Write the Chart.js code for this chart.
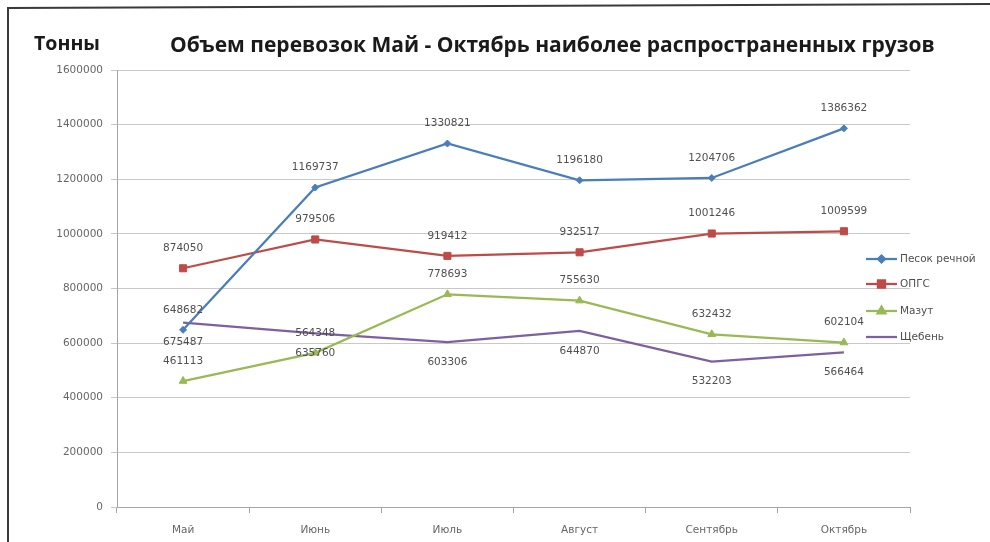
<!DOCTYPE html>
<html>
<head>
<meta charset="utf-8">
<script src="https://cdn.jsdelivr.net/npm/chart.js@4.4.1/dist/chart.umd.min.js"></script>
<style>
html,body{margin:0;padding:0;background:#fff;}
#wrap{position:relative;width:990px;height:542px;}
canvas{display:block;}
</style>
</head>
<body>
<div id="wrap"><canvas id="c" width="990" height="542"></canvas></div>
<script>
const categories = ["Май", "Июнь", "Июль", "Август", "Сентябрь", "Октябрь"];
const pesok = [648682, 1169737, 1330821, 1196180, 1204706, 1386362];
const opgs = [874050, 979506, 919412, 932517, 1001246, 1009599];
const mazut = [461113, 564348, 778693, 755630, 632432, 602104];
const sheben = [675487, 635760, 603306, 644870, 532203, 566464];
const seriesNames = ["Песок речной", "ОПГС", "Мазут", "Щебень"];
const yTicks = [0, 200000, 400000, 600000, 800000, 1000000, 1200000, 1400000, 1600000];
const titleText = "Объем перевозок Май - Октябрь наиболее распространенных грузов";
const unitText = "Тонны";

const FONT = "'Open Sans', 'Liberation Sans', sans-serif";
const SMALL = "'DejaVu Sans', sans-serif";

const styles = [
  {color:"#4a7ebb", pointStyle:"rectRot", radius:3.5, labelPos:"above"},
  {color:"#be4b48", pointStyle:"rect", radius:5, labelPos:"above"},
  {color:"#98b954", pointStyle:"triangle", radius:4.5, labelPos:"above"},
  {color:"#7d60a0", pointStyle:false, radius:0, labelPos:"below"}
];

const allData = [pesok, opgs, mazut, sheben];

const datasets = allData.map((d, i) => ({
  label: seriesNames[i],
  data: d,
  borderColor: styles[i].color,
  backgroundColor: styles[i].color,
  borderWidth: 2.25,
  pointStyle: styles[i].pointStyle,
  pointRadius: styles[i].radius,
  pointHoverRadius: styles[i].radius,
  pointBorderWidth: 1,
  pointBorderColor: styles[i].color,
  pointBackgroundColor: styles[i].color,
  tension: 0,
  labelPos: styles[i].labelPos
}));

const decor = {
  id: "decor",
  beforeDraw(chart) {
    const ctx = chart.ctx;
    ctx.save();
    ctx.fillStyle = "#fff";
    ctx.fillRect(0, 0, chart.width, chart.height);
    ctx.strokeStyle = "#3a3a3a";
    ctx.lineWidth = 2;
    ctx.beginPath();
    ctx.moveTo(8, 542);
    ctx.lineTo(8, 8);
    ctx.lineTo(990, 4);
    ctx.stroke();
    ctx.restore();
  },
  afterDatasetsDraw(chart) {
    const ctx = chart.ctx;
    ctx.save();
    // data labels
    ctx.font = "10.5px " + SMALL;
    ctx.fillStyle = "#505050";
    ctx.textAlign = "center";
    ctx.textBaseline = "middle";
    chart.data.datasets.forEach((ds, di) => {
      const meta = chart.getDatasetMeta(di);
      meta.data.forEach((pt, j) => {
        const dy = ds.labelPos === "below" ? 20 : -20;
        ctx.fillText(String(ds.data[j]), pt.x, pt.y + dy);
      });
    });
    // title
    ctx.fillStyle = "#1a1a1a";
    ctx.textAlign = "left";
    ctx.textBaseline = "middle";
    ctx.font = "bold 20px " + FONT;
    let w = ctx.measureText(titleText).width;
    const size = 20 * 765 / w;
    ctx.font = "bold " + size.toFixed(2) + "px " + FONT;
    ctx.fillText(titleText, 170, 46);
    ctx.font = "bold 20px " + FONT;
    w = ctx.measureText(unitText).width;
    ctx.font = "bold " + (20 * 66 / w).toFixed(2) + "px " + FONT;
    ctx.fillText(unitText, 34, 44);
    // legend
    const ly = [259, 284, 311, 337];
    ctx.font = "10.5px " + SMALL;
    ctx.textAlign = "left";
    chart.data.datasets.forEach((ds, di) => {
      const y = ly[di];
      ctx.strokeStyle = ds.borderColor;
      ctx.lineWidth = 2.25;
      ctx.beginPath();
      ctx.moveTo(866, y);
      ctx.lineTo(897, y);
      ctx.stroke();
      if (ds.pointStyle) {
        Chart.helpers.drawPoint(ctx, {pointStyle: ds.pointStyle, radius: ds.pointRadius, rotation: 0, borderWidth: 1}, 881.5, y);
        ctx.fillStyle = ds.borderColor;
        ctx.fill();
      }
      ctx.fillStyle = "#505050";
      ctx.fillText(ds.label, 900, y);
    });
    ctx.restore();
  }
};

new Chart(document.getElementById("c"), {
  type: "line",
  data: { labels: categories, datasets },
  options: {
    responsive: false,
    animation: false,
    devicePixelRatio: 1,
    layout: { padding: { left: 0, right: 80, top: 70, bottom: 0 } },
    plugins: { legend: { display: false }, title: { display: false }, tooltip: { enabled: false } },
    scales: {
      x: {
        offset: true,
        grid: { display: true, drawOnChartArea: false, drawTicks: true, tickLength: 6, color: "#a6a6a6", offset: true },
        border: { color: "#a6a6a6", width: 1 },
        ticks: { font: { size: 10.5, family: SMALL }, color: "#666666", padding: 11, maxRotation: 0 },
        afterFit(s) { s.height = 35; }
      },
      y: {
        min: 0, max: 1600000,
        afterBuildTicks(s) { s.ticks = yTicks.map(v => ({ value: v })); },
        grid: { color: "#c8c8c8", lineWidth: 1, tickLength: 6 },
        border: { color: "#a6a6a6", width: 1 },
        ticks: { font: { size: 10.5, family: SMALL }, color: "#666666", padding: 8, callback: v => String(v) },
        afterFit(s) { s.width = 117; }
      }
    }
  },
  plugins: [decor]
});
</script>
</body>
</html>
